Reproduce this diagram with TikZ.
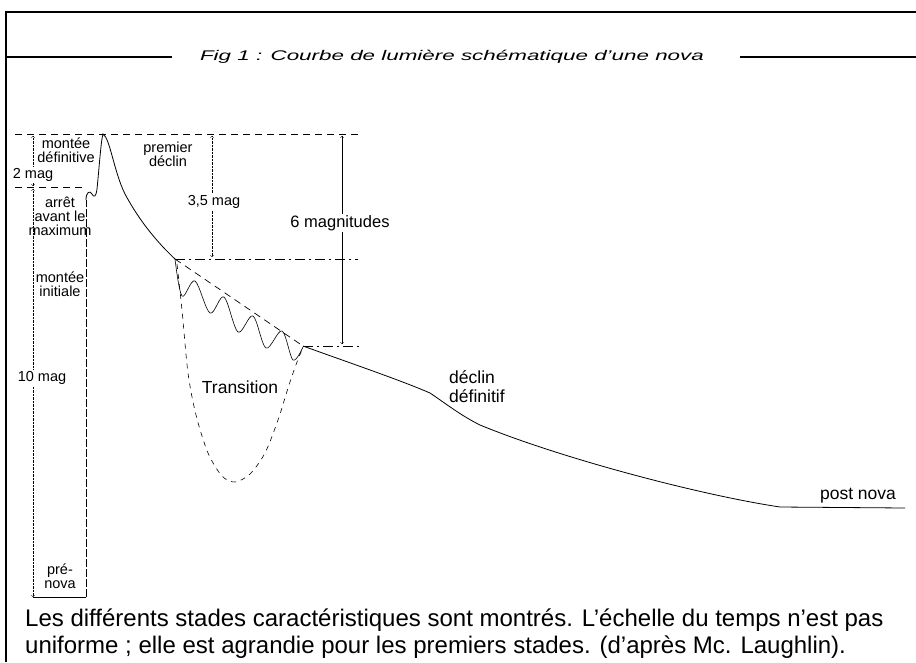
\documentclass[tikz,border=0pt]{standalone}
\usepackage{fontspec}
\setmainfont{Liberation Sans}
\begin{document}
\begin{tikzpicture}[x=1pt,y=-1pt,
		lbl/.style={font=\fontsize{14.5}{14}\selectfont,inner sep=1pt,align=center},
		biglbl/.style={font=\fontsize{17.5}{19}\selectfont,inner sep=1pt,align=left},
		maglbl/.style={lbl,fill=white},
		curve/.style={line width=0.8pt},
		guide/.style={line width=0.7pt,dash pattern=on 7pt off 5pt},
		level/.style={line width=0.7pt,dash pattern=on 10pt off 4pt on 2pt off 4pt}]
		\useasboundingbox (0,0) rectangle (916,662);
		\draw[line width=2pt] (5,12) -- (916,12);
		\draw[line width=2pt] (6,11) -- (6,662);
		\node[inner sep=0pt] (title) at (452,57) {\scalebox{1.6}[1]{\itshape\fontsize{14}{16}\selectfont Fig 1 : Courbe de lumière schématique d'une nova}};
		\draw[line width=1.6pt] (6,57) -- (172,57);
		\draw[line width=1.6pt] (740,57) -- (916,57);
		\coordinate (pre) at (86,597);
		\coordinate (arret) at (86,200);
		\coordinate (peak) at (103,134);
		\coordinate (dec) at (175,259);
		\coordinate (trans) at (303,346);
		\coordinate (kink) at (430,393);
		\coordinate (post) at (905,508);
		\draw[guide] (15,134) -- (360,134);
		\draw[guide] (15,187) -- (84,187);
		\draw[level] (dec) -- (358,259);
		\draw[level] (trans) -- (362,346);
		\draw[guide] (dec) -- (trans);
		\draw[densely dotted,<->] (33,136) -- (33,186);
		\node[maglbl] (deux) at (33,175) {2 mag};
		\draw[densely dotted,<->] (33,189) -- (33,597);
		\node[maglbl] (dix) at (42,378) {10 mag};
		\draw[densely dotted,<->] (212,136) -- (212,257);
		\node[maglbl] (trois) at (214,202) {3,5 mag};
		\draw[<->] (342,136) -- (342,344);
		\node[maglbl,font=\fontsize{16.5}{18}\selectfont] (six) at (340,223) {6 magnitudes};
		\draw[curve] (33,597) -- (pre);
		\draw[curve,dash pattern=on 8pt off 2pt] (pre) -- (arret);
		\draw[curve] (arret) .. controls (86,192) and (90,190) .. (92,194) .. controls (94,198) and (96,197) .. (97,189) .. controls (99,170) and (101,140) .. (peak) .. controls (110,138) and (114,172) .. (125,194) .. controls (140,222) and (158,243) .. (dec);
		\draw[line width=0.6pt] plot[smooth,tension=0.55] coordinates {(175,259) (182,296) (195,281) (210,313) (224,297) (238,332) (253,316) (266,348) (282,331) (293,360) (303,347)};
		\draw[line width=0.6pt,dash pattern=on 5pt off 5pt] plot[smooth] coordinates {(177,264) (182,310) (188,373) (196,415) (208,453) (222,476) (235,482) (250,474) (265,453) (278,420) (289,385) (297,362) (302,350)};
		\draw[curve] (trans) .. controls (350,363) and (400,380) .. (kink) .. controls (445,403) and (460,415) .. (480,425) .. controls (560,458) and (700,495) .. (780,507) -- (post);
		\node[lbl] (defin) at (66,150) {montée\\définitive};
		\node[lbl] (avant) at (60,216) {arrêt\\avant le\\maximum};
		\node[lbl] (init) at (60,284) {montée\\initiale};
		\node[lbl] (prenova) at (60,576) {pré-\\nova};
		\node[lbl] (premier) at (168,154) {premier\\déclin};
		\node[biglbl,anchor=west] (final) at (448,387) {déclin\\définitif};
		\node[biglbl] (transition) at (240,387) {Transition};
		\node[biglbl,anchor=south] (postnova) at (858,504) {post nova};
		\node[anchor=west,align=left,inner sep=0pt,font=\fontsize{24}{27}\selectfont] (caption) at (25,634) {Les différents stades caractéristiques sont montrés. L'échelle du temps n'est pas\\uniforme ; elle est agrandie pour les premiers stades. (d'après Mc. Laughlin).};
	\end{tikzpicture}
\end{document}
